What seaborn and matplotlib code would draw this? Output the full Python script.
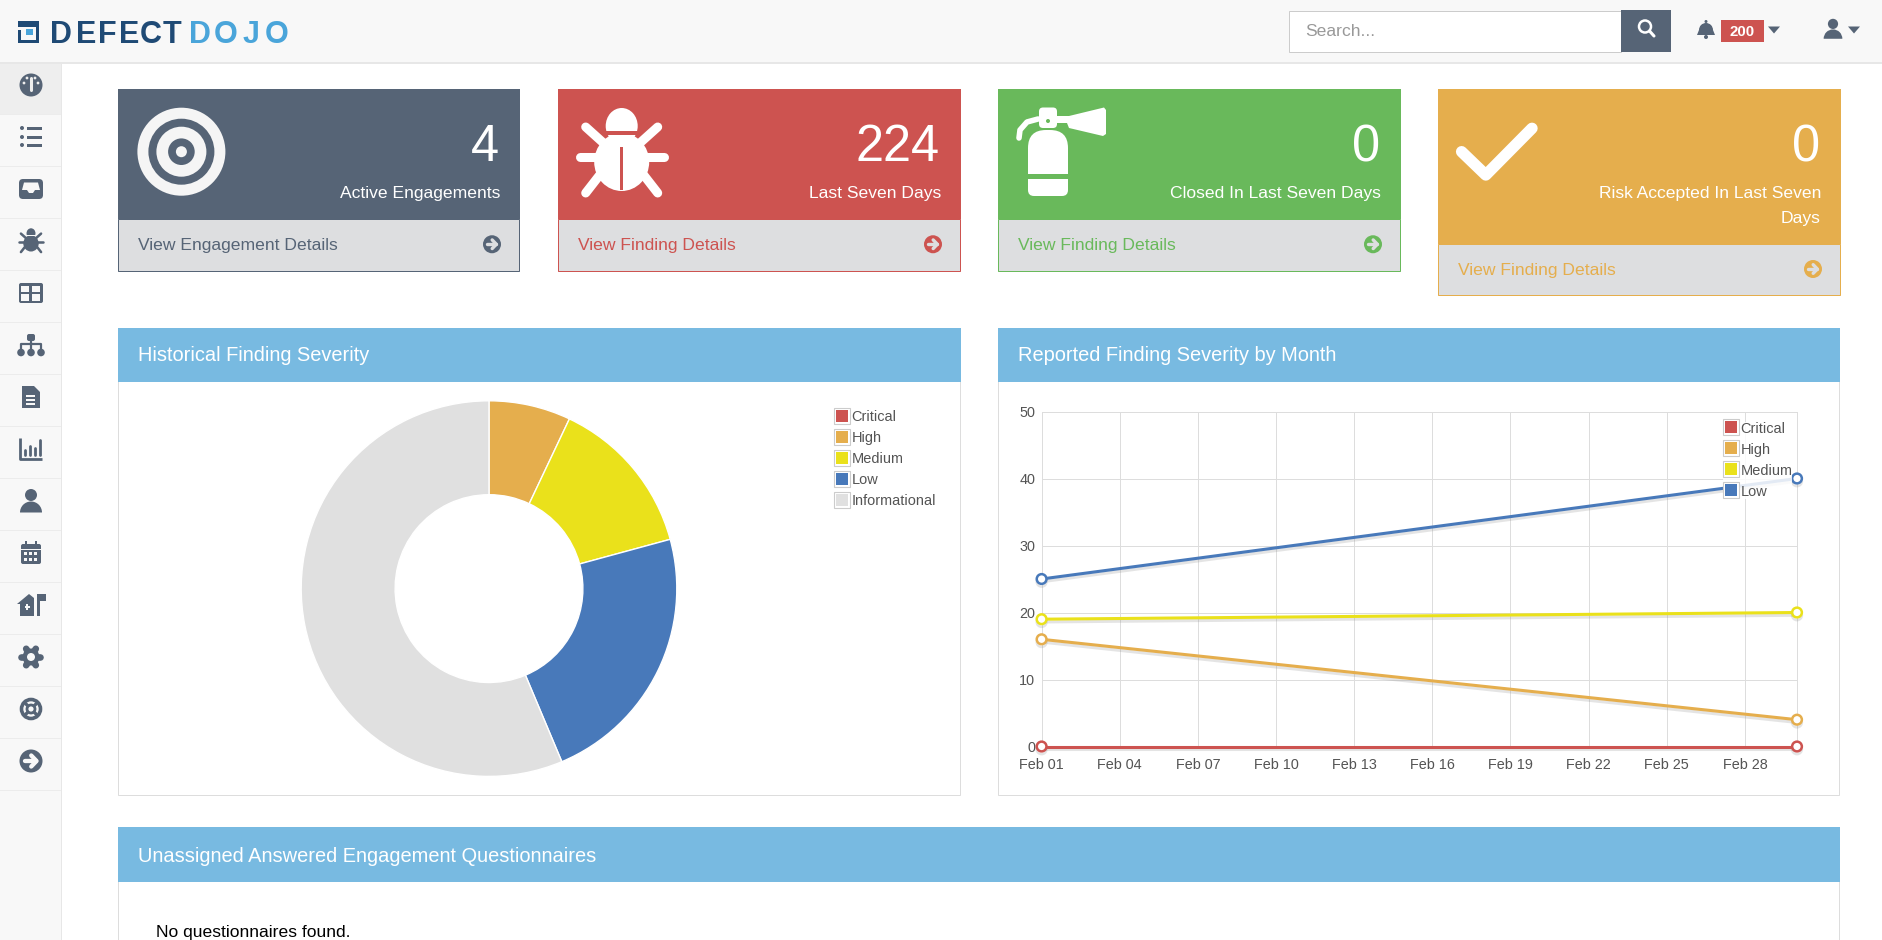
# DefectDojo dashboard screenshot, rebuilt with seaborn / matplotlib
import pandas as pd
import matplotlib
matplotlib.use('Agg')
import matplotlib.pyplot as plt
import matplotlib.patheffects as pe
import seaborn as sns
from matplotlib.legend_handler import HandlerTuple
from matplotlib.lines import Line2D
from matplotlib.patches import Circle, Ellipse, FancyBboxPatch, Polygon, Rectangle, Wedge

# ---- #
# Data #
# ---- #
severity_names = ['Critical', 'High', 'Medium', 'Low', 'Informational']
severity_totals = [0, 20, 39, 65, 160]

month_dates = ['2020-02-01', '2020-03-01']
critical_counts = [0, 0]
high_counts = [16, 4]
medium_counts = [19, 20]
low_counts = [25, 40]

y_ticks = [0, 10, 20, 30, 40, 50]
x_tick_dates = ['2020-02-01', '2020-02-04', '2020-02-07', '2020-02-10', '2020-02-13',
                '2020-02-16', '2020-02-19', '2020-02-22', '2020-02-25', '2020-02-28']
x_tick_labels = ['Feb 01', 'Feb 04', 'Feb 07', 'Feb 10', 'Feb 13',
                 'Feb 16', 'Feb 19', 'Feb 22', 'Feb 25', 'Feb 28']

card_values = ['4', '224', '0', '0']
card_labels = ['Active Engagements', 'Last Seven Days', 'Closed In Last Seven Days',
               'Risk Accepted In Last Seven\nDays']
card_links = ['View Engagement Details', 'View Finding Details', 'View Finding Details',
              'View Finding Details']

# ---------- #
# Parameters #
# ---------- #
W, H = 1882, 940
slate = '#566476'
red = '#CD5350'
orange = '#E5AE4D'
yellow = '#EAE11B'
blue = '#4879BA'
grey = '#E0E0E0'
green = '#69B95B'
sky = '#78BAE1'
label_grey = '#545454'
severity_colors = [red, orange, yellow, blue, grey]
thin = 0.72  # one pixel at 100 dpi

sns.set_theme(style='white')
plt.rcParams['font.family'] = ['Liberation Sans', 'DejaVu Sans']

fig = plt.figure(figsize=(W / 100, H / 100), dpi=100, facecolor='white')
bg = fig.add_axes([0, 0, 1, 1], zorder=0)
bg.set_xlim(0, W)
bg.set_ylim(H, 0)
bg.axis('off')


# ---------------- #
# Drawing helpers  #
# ---------------- #
def rect(x0, y0, x1, y1, fc, ec='none', lw=0.0, z=1):
    bg.add_patch(Rectangle((x0, y0), x1 - x0, y1 - y0, fc=fc, ec=ec, lw=lw, zorder=z))


def rrect(x0, y0, x1, y1, fc, r=2, z=3):
    bg.add_patch(FancyBboxPatch((x0 + r, y0 + r), x1 - x0 - 2 * r, y1 - y0 - 2 * r,
                                boxstyle='round,pad=%g,rounding_size=%g' % (r, r),
                                fc=fc, ec='none', lw=0, zorder=z))


def circ(x, y, r, fc, z=3):
    bg.add_patch(Circle((x, y), r, fc=fc, ec='none', lw=0, zorder=z))


def seg(xs, ys, color, lw, z=3, cap='round'):
    bg.plot(xs, ys, color=color, lw=lw, solid_capstyle=cap, zorder=z)


def poly(pts, fc, z=3):
    bg.add_patch(Polygon(pts, closed=True, fc=fc, ec='none', lw=0, zorder=z))


def draw_bug(cx, cy, s, color, back):
    # s = 1 is the large card icon
    bg.add_patch(Ellipse((cx, cy - 31 * s), 32 * s, 36 * s, fc=color, ec='none', zorder=3))
    rect(cx - 18 * s, cy - 26 * s, cx + 18 * s, cy - 22 * s, back, z=3.1)
    bg.add_patch(Ellipse((cx, cy + 5 * s), 55 * s, 58 * s, fc=color, ec='none', zorder=3))
    rect(cx - 1.6 * s, cy - 10 * s, cx + 1.6 * s, cy + 33 * s, back, z=3.2)
    for d in (-1, 1):
        seg([cx + d * 36 * s, cx + d * 16 * s], [cy - 30 * s, cy - 12 * s], color, 6.5 * s)
        seg([cx + d * 42 * s, cx + d * 20 * s], [cy, cy], color, 6.5 * s)
        seg([cx + d * 36 * s, cx + d * 22 * s], [cy + 36 * s, cy + 18 * s], color, 6.5 * s)


def draw_user(cx, cy, s, color):
    circ(cx, cy - 6 * s, 6 * s, color)
    bg.add_patch(Wedge((cx, cy + 11.5 * s), 11 * s, 180, 360, fc=color, ec='none', zorder=3))


def draw_arrow_circle(cx, cy, r, color, fg):
    circ(cx, cy, r, color)
    seg([cx - r * 0.5, cx + r * 0.4], [cy, cy], fg, r * 0.27, z=3.2)
    seg([cx + r * 0.02, cx + r * 0.48, cx + r * 0.02],
        [cy - r * 0.48, cy, cy + r * 0.48], fg, r * 0.27, z=3.2)


def caret(cx, cy, color):
    poly([(cx - 6, cy - 3.5), (cx + 6, cy - 3.5), (cx, cy + 3.5)], color)


# ------------- #
# Header / logo #
# ------------- #
rect(0, 0, W, 62, '#F8F8F8')
rect(0, 62, W, 63.5, '#E7E7E7')

dark_logo = '#1F4A75'
light_logo = '#4AA5DA'
rect(18, 20.7, 39.5, 42.7, dark_logo, z=2)
rect(21.5, 27, 36, 39.5, '#F8F8F8', z=2.1)
rect(18, 27, 24, 30, '#F8F8F8', z=2.2)
rect(26.5, 28.5, 33.5, 35, light_logo, z=2.3)
logo_letters = ['D', 'E', 'F', 'E', 'C', 'T', 'D', 'O', 'J', 'O']
logo_starts = [50, 75.7, 97, 118.6, 140, 161.4, 189.3, 215, 240, 265.7]
for n, (letter, start) in enumerate(zip(logo_letters, logo_starts)):
    bg.text(start + 10.7, 42.8, letter, color=dark_logo if n < 6 else light_logo,
            fontsize=22, fontweight='bold', va='baseline', ha='center', zorder=3)

# search box
rect(1289, 10.5, 1621, 51.5, 'white', ec='#CCCCCC', lw=thin)
rect(1621, 10, 1671, 52, slate, z=2)
bg.text(1305.5, 31.5, 'Search...', color='#999999', fontsize=12.6, va='center', ha='left', zorder=3)
bg.add_patch(Circle((1645, 26.5), 6, fc='none', ec='white', lw=1.8, zorder=3))
seg([1649.5, 1654], [31, 36], 'white', 2.2)

# bell, badge, user
bg.add_patch(Wedge((1706, 30), 7, 180, 360, fc=slate, ec='none', zorder=3))
poly([(1699, 30), (1713, 30), (1715, 35), (1697, 35)], slate)
circ(1706, 37, 2, slate)
circ(1706, 21.5, 1.5, slate)
rect(1721, 20, 1764, 42, red, z=2)
bg.text(1742.5, 31.5, '200', color='white', fontsize=10.8, fontweight='bold',
        va='center', ha='center', zorder=3)
caret(1774, 30, slate)
draw_user(1833, 29, 0.85, slate)
caret(1854, 30, slate)

# ------- #
# Sidebar #
# ------- #
rect(0, 63.5, 61, H, '#F8F8F8')
rect(61, 63.5, 62, H, '#E7E7E7')
rect(0, 63.5, 61, 114, '#EEEEEE', z=1.1)
for i in range(14):
    rect(0, 114 + i * 52, 61, 115 + i * 52, '#ECECEC', z=1.2)

sx = 31
row = [85 + i * 52 for i in range(14)]
# gauge
circ(sx, row[0], 11.5, slate)
seg([sx, sx], [row[0] - 7, row[0] + 5], '#EEEEEE', 2.2, z=3.2)
for dx, dy in [(-7, -2), (-4, -7), (4, -7), (7, -2)]:
    circ(sx + dx, row[0] + dy, 1.4, '#EEEEEE', z=3.2)
# list
for dy in (-9, 0, 8):
    circ(sx - 9, row[1] + dy, 2, slate)
    rect(sx - 4, row[1] + dy - 1.5, sx + 11, row[1] + dy + 1.5, slate, z=3)
# inbox
rrect(sx - 12, row[2] - 10, sx + 12, row[2] + 10, slate, r=4)
poly([(sx - 7, row[2] - 6.5), (sx + 7, row[2] - 6.5), (sx + 9, row[2] + 1), (sx + 4, row[2] + 1),
      (sx + 2, row[2] + 4), (sx - 2, row[2] + 4), (sx - 4, row[2] + 1), (sx - 9, row[2] + 1)],
     '#F8F8F8', z=3.2)
# bug
draw_bug(sx, row[3] + 1, 0.28, slate, '#F8F8F8')
# table
rrect(sx - 12, row[4] - 10, sx + 12, row[4] + 10, slate, r=2)
for dx in (-9.5, 1.5):
    for dy in (-7.5, 1):
        rect(sx + dx, row[4] + dy, sx + dx + 8, row[4] + dy + 6.5, '#F8F8F8', z=3.2)
# sitemap
rrect(sx - 4, row[5] - 11, sx + 4, row[5] - 4, slate, r=2)
seg([sx, sx], [row[5] - 5, row[5] + 5], slate, 1.6, cap='butt')
seg([sx - 10, sx - 10, sx + 10, sx + 10], [row[5] + 5, row[5] - 1, row[5] - 1, row[5] + 5], slate, 1.6, cap='butt')
for dx in (-10, 0, 10):
    circ(sx + dx, row[5] + 7.5, 3.8, slate)
# file
poly([(sx - 9, row[6] - 11), (sx + 3, row[6] - 11), (sx + 9, row[6] - 5), (sx + 9, row[6] + 11),
      (sx - 9, row[6] + 11)], slate)
for dy in (-1, 3, 7):
    rect(sx - 4.5, row[6] + dy - 0.8, sx + 4.5, row[6] + dy + 0.8, '#F8F8F8', z=3.2)
# chart
seg([sx - 11, sx - 11, sx + 11], [row[7] - 11, row[7] + 10, row[7] + 10], slate, 2, cap='butt')
for dx, top in [(-6, 1), (-1, -3), (4, -1), (9, -9)]:
    seg([sx + dx, sx + dx], [row[7] + top, row[7] + 6], slate, 2)
# user
draw_user(sx, row[8], 1.0, slate)
# calendar
rrect(sx - 10, row[9] - 9, sx + 10, row[9] + 11, slate, r=2)
rect(sx - 10, row[9] - 4.5, sx + 10, row[9] - 3.5, '#F8F8F8', z=3.2)
for dx in (-5, 5):
    rect(sx + dx - 1, row[9] - 12, sx + dx + 1, row[9] - 7, slate, z=3.2)
for dx in (-7, -2, 3):
    for dy in (-1, 5):
        rect(sx + dx, row[9] + dy, sx + dx + 3.2, row[9] + dy + 3, '#F8F8F8', z=3.3)
# house + flag
poly([(sx - 14, row[10] - 1), (sx - 2, row[10] - 11), (sx + 3, row[10] - 7), (sx + 3, row[10] + 11),
      (sx - 11, row[10] + 11), (sx - 11, row[10] - 1)], slate)
rect(sx - 6, row[10] + 1, sx - 1, row[10] + 3, '#F8F8F8', z=3.2)
rect(sx - 4.5, row[10] - 1, sx - 2.5, row[10] + 5, '#F8F8F8', z=3.2)
rect(sx + 6, row[10] - 11, sx + 9, row[10] + 11, slate, z=3)
rect(sx + 9, row[10] - 11, sx + 15, row[10] - 4, slate, z=3)
# gear
circ(sx, row[11], 8.5, slate)
for a, b in [(-9.5, 0), (9.5, 0), (-4.8, -8.2), (4.8, -8.2), (-4.8, 8.2), (4.8, 8.2)]:
    seg([sx, sx + a], [row[11], row[11] + b], slate, 4.8, cap='round')
circ(sx, row[11], 4, '#F8F8F8', z=3.2)
# life ring
bg.add_patch(Circle((sx, row[12]), 9.5, fc='none', ec=slate, lw=2.6, zorder=3))
bg.add_patch(Circle((sx, row[12]), 4, fc='none', ec=slate, lw=2, zorder=3))
for a, b in [(-1, -1), (1, -1), (-1, 1), (1, 1)]:
    seg([sx + a * 3, sx + a * 7], [row[12] + b * 3, row[12] + b * 7], slate, 2.4, cap='butt')
# arrow
draw_arrow_circle(sx, row[13], 11.5, slate, '#F8F8F8')

# ----- #
# Cards #
# ----- #
card_x0 = [118, 558, 998, 1438]
card_x1 = [520, 961, 1401, 1841]
card_head = [219, 219, 219, 244]
card_bottom = [270.5, 270.5, 270.5, 295]
card_colors = [slate, red, green, orange]

for i in range(4):
    x0, x1 = card_x0[i], card_x1[i]
    rect(x0, 89, x1, card_head[i], card_colors[i], z=2)
    rect(x0 + 0.5, card_head[i], x1 - 0.5, card_bottom[i], '#DDDEE0', ec=card_colors[i], lw=thin, z=2)
    bg.text(x1 - 21, 161, card_values[i], color='white', fontsize=36.4, ha='right',
            va='baseline', zorder=3)
    for n, part in enumerate(card_labels[i].split('\n')):
        bg.text(x1 - 20, 198 + n * 25, part, color='white', fontsize=12.6, ha='right',
                va='baseline', zorder=3)
    mid = (card_head[i] + card_bottom[i]) / 2 + 0.5
    bg.text(x0 + 20, mid, card_links[i], color=card_colors[i], fontsize=12.6, ha='left',
            va='center', zorder=3)
    draw_arrow_circle(x1 - 28, mid - 1, 9, card_colors[i], '#DDDEE0')

# target icon
for n, (r, c) in enumerate([(44, '#F5F5F5'), (33, slate), (25, '#F5F5F5'), (13.3, slate), (5.5, '#F5F5F5')]):
    circ(181.4, 151.7, r, c, z=3 + n * 0.1)

draw_bug(621.7, 157, 1.0, 'white', red)

# extinguisher
rrect(1028, 130, 1068, 170, 'white', r=18, z=3)
rect(1028, 150, 1068, 174, 'white', z=3)
rrect(1028, 179.3, 1068, 196, 'white', r=6, z=3)
rect(1028, 179.3, 1068, 186, 'white', z=3)
rrect(1039, 107.5, 1057, 128, 'white', r=4)
poly([(1057, 116), (1069, 116), (1104, 107.5), (1106, 110), (1106, 134), (1103, 136),
      (1069, 128), (1067, 123), (1057, 123)], 'white')
circ(1048, 121, 2, green, z=3.2)
seg([1038, 1027, 1020, 1019], [119, 122, 130, 138], 'white', 4)

# check mark
seg([1461.6, 1485.8, 1532], [151.7, 175, 128.3], 'white', 8.2)

# ------ #
# Panels #
# ------ #
panel_titles = ['Historical Finding Severity', 'Reported Finding Severity by Month',
                'Unassigned Answered Engagement Questionnaires']
panel_boxes = [(118, 328, 961, 382, 795), (998, 328, 1840, 382, 795), (118, 827, 1840, 882, 960)]
for title, (x0, y0, x1, y1, y2) in zip(panel_titles, panel_boxes):
    rect(x0 + 0.5, y0, x1 - 0.5, y2, 'white', ec='#DDDDDD', lw=thin, z=1.5)
    rect(x0, y0, x1, y1, sky, z=2)
    bg.text(x0 + 20, (y0 + y1) / 2 + (1.5 if y0 > 800 else 0.5), title, color='white', fontsize=14.4,
            ha='left', va='center', zorder=3)
bg.text(156, 933, 'No questionnaires found.', color='black', fontsize=12.6, ha='left',
        va='center', zorder=3)


def add_legend(ax, names, anchor_px):
    handles = []
    for name in names:
        color = severity_colors[severity_names.index(name)]
        outer = Line2D([], [], ls='none', marker='s', ms=11.2, mfc='white', mec='#CCCCCC', mew=0.8)
        inner = Line2D([], [], ls='none', marker='s', ms=8.8, mfc=color, mec=color, mew=0)
        handles.append((outer, inner))
    leg = ax.legend(handles, names, handler_map={tuple: HandlerTuple(ndivide=1, pad=0)},
                    loc='upper left', bbox_to_anchor=(anchor_px[0] / W, 1 - anchor_px[1] / H),
                    bbox_transform=fig.transFigure, fontsize=10.45, labelcolor=label_grey,
                    frameon=True, framealpha=0.85, facecolor='white', edgecolor='none',
                    borderpad=0, borderaxespad=0, handlelength=1.1, handleheight=1.0,
                    handletextpad=0.1, labelspacing=0.45)
    leg.get_frame().set_linewidth(0)
    return leg


# --------- #
# Donut     #
# --------- #
radius_px = 187.8
pie_cx, pie_cy = 489, 588.6
pie_span = radius_px * 1.02
ax_pie = fig.add_axes([(pie_cx - pie_span) / W, 1 - (pie_cy + pie_span) / H,
                       2 * pie_span / W, 2 * pie_span / H], zorder=2)
ax_pie.pie(severity_totals, colors=severity_colors, startangle=90, counterclock=False,
           radius=1, wedgeprops={'width': 0.5, 'edgecolor': 'white', 'linewidth': 1.0})
ax_pie.set_xlim(-1.02, 1.02)
ax_pie.set_ylim(-1.02, 1.02)
add_legend(ax_pie, severity_names, (834, 410))

# ---------- #
# Line chart #
# ---------- #
month_df = pd.DataFrame({
    'date': pd.to_datetime(month_dates * 4),
    'count': critical_counts + high_counts + medium_counts + low_counts,
    'severity': ['Critical'] * 2 + ['High'] * 2 + ['Medium'] * 2 + ['Low'] * 2,
})
line_names = ['Critical', 'High', 'Medium', 'Low']
line_top, line_bottom, line_left, line_right = 411.5, 746.5, 1041.6, 1797
ax_line = fig.add_axes([line_left / W, 1 - line_bottom / H,
                        (line_right - line_left) / W, (line_bottom - line_top) / H], zorder=2)
ax_line.patch.set_alpha(0)
sns.lineplot(data=month_df, x='date', y='count', hue='severity', hue_order=line_names,
             palette=severity_colors[:4], marker='o', ms=7, mfc='white', mew=1.8,
             lw=2.2, legend=False, ax=ax_line, estimator=None, zorder=5)
for line in ax_line.get_lines():
    line.set_markeredgecolor(line.get_color())
    line.set_clip_on(False)
    line.set_path_effects([pe.SimpleLineShadow(offset=(0, -2), shadow_color='#888888', alpha=0.22),
                           pe.Normal()])

ax_line.set_xlim(pd.Timestamp(month_dates[0]), pd.Timestamp(month_dates[1]))
ax_line.set_ylim(y_ticks[0], y_ticks[-1])
ax_line.set_xticks(pd.to_datetime(x_tick_dates))
ax_line.set_xticklabels(x_tick_labels)
ax_line.set_yticks(y_ticks)
ax_line.set_xlabel('')
ax_line.set_ylabel('')
ax_line.tick_params(axis='both', length=0, labelsize=10.4, labelcolor=label_grey)
ax_line.tick_params(axis='x', pad=8.5)
ax_line.tick_params(axis='y', pad=4.5)
ax_line.grid(True, color='#DDDDDD', lw=thin)
ax_line.set_axisbelow(True)
for side in ax_line.spines:
    ax_line.spines[side].set_color('#DDDDDD')
    ax_line.spines[side].set_linewidth(thin)
add_legend(ax_line, line_names, (1723, 421.5)).set_zorder(10)

fig.savefig('out.png', dpi=100, facecolor='white')
